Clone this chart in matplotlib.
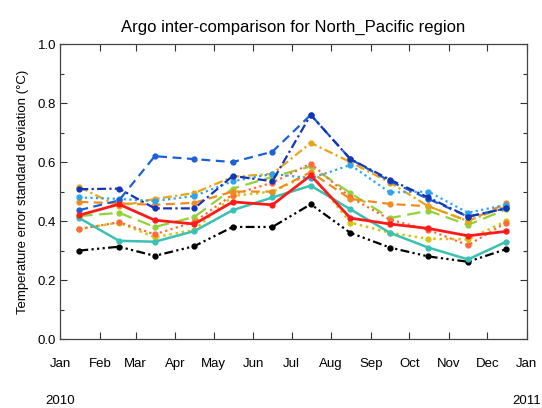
# -*- coding: utf-8 -*-

import numpy as np
import matplotlib
matplotlib.use('Agg')
import matplotlib.pyplot as plt
import matplotlib.dates as mdates
import pandas as pd

plt.rcParams['font.family'] = ['Liberation Sans', 'DejaVu Sans']

months = ['Jan', 'Feb', 'Mar', 'Apr', 'May', 'Jun', 'Jul', 'Aug', 'Sep', 'Oct', 'Nov', 'Dec', 'Jan']
dates = pd.date_range('2010-01-01', periods=12, freq='MS') + pd.Timedelta(days=15)

black = [0.30, 0.313, 0.282, 0.315, 0.38, 0.38, 0.457, 0.36, 0.31, 0.28, 0.262, 0.305]
teal = [0.41, 0.333, 0.33, 0.366, 0.437, 0.48, 0.52, 0.44, 0.36, 0.31, 0.27, 0.33]
red = [0.42, 0.457, 0.403, 0.39, 0.465, 0.455, 0.555, 0.41, 0.39, 0.375, 0.35, 0.365]
blue_dash = [0.437, 0.47, 0.62, 0.61, 0.60, 0.635, 0.76, 0.61, 0.535, 0.475, 0.415, 0.443]
navy_dashdot = [0.508, 0.51, 0.443, 0.443, 0.553, 0.535, 0.76, 0.61, 0.54, 0.48, 0.415, 0.443]
lightblue_dot = [0.48, 0.475, 0.468, 0.485, 0.535, 0.56, 0.545, 0.59, 0.497, 0.50, 0.428, 0.455]
orange_dash = [0.465, 0.46, 0.455, 0.462, 0.50, 0.50, 0.566, 0.475, 0.458, 0.45, 0.40, 0.46]
tomato_dot = [0.373, 0.396, 0.355, 0.397, 0.49, 0.53, 0.595, 0.48, 0.405, 0.37, 0.318, 0.395]
gold_dashdot = [0.515, 0.45, 0.475, 0.495, 0.55, 0.56, 0.665, 0.60, 0.53, 0.45, 0.40, 0.45]
green_dash = [0.417, 0.428, 0.38, 0.414, 0.51, 0.55, 0.585, 0.495, 0.41, 0.435, 0.387, 0.44]
yellow_dot = [0.373, 0.395, 0.345, 0.37, 0.485, 0.50, 0.56, 0.395, 0.36, 0.34, 0.338, 0.40]

f = plt.figure(figsize=(5.42, 4.08), dpi=100)
ax = f.add_axes([0.111, 0.169, 0.861, 0.723])

ax.plot(dates, black, color='black', ls=(0, (4, 1.5, 1, 1.5, 1, 1.5, 1, 1.5)), marker='o', ms=3.5, lw=1.6)
ax.plot(dates, green_dash, color='#92d13a', ls=(0, (6, 3)), marker='o', ms=3.5, lw=1.6)
ax.plot(dates, yellow_dot, color='#d4c60a', ls=(0, (1, 1.5)), marker='o', ms=3.5, lw=1.8)
ax.plot(dates, tomato_dot, color='#ff6a3d', ls=(0, (1, 1.5)), marker='o', ms=3.5, lw=1.6)
ax.plot(dates, orange_dash, color='#f28a1e', ls=(0, (4, 2.5)), marker='o', ms=3.5, lw=1.6)
ax.plot(dates, gold_dashdot, color='#e8a516', ls=(0, (4, 1.5, 1, 1.5)), marker='o', ms=3.5, lw=1.6)
ax.plot(dates, lightblue_dot, color='#2ea3f0', ls=(0, (1, 1.5)), marker='o', ms=3.5, lw=1.6)
ax.plot(dates, blue_dash, color='#1d5fd6', ls=(0, (4, 2.5)), marker='o', ms=3.5, lw=1.6)
ax.plot(dates, navy_dashdot, color='#1435b8', ls=(0, (4, 1.5, 1, 1.5)), marker='o', ms=3.5, lw=1.6)
ax.plot(dates, teal, color='#3cc0b4', ls='-', marker='o', ms=3.5, lw=1.8)
ax.plot(dates, red, color='#ff1a1a', ls='-', marker='o', ms=3.5, lw=2.0)

ax.set_xlim(pd.Timestamp('2010-01-01'), pd.Timestamp('2011-01-01'))
ax.set_ylim(0, 1.0)
ax.set_xticks(pd.date_range('2010-01-01', '2011-01-01', freq='MS'))
ax.set_xticklabels(months)
ax.set_yticks([0, 0.2, 0.4, 0.6, 0.8, 1.0])
ax.set_yticks(np.arange(0.1, 1.0, 0.2), minor=True)
ax.set_yticklabels(['0.0', '0.2', '0.4', '0.6', '0.8', '1.0'])
ax.tick_params(direction='in', top=True, right=True, length=5, width=0.8, labelsize=9.5, colors='#333333', labelcolor='black')
ax.tick_params(axis='x', pad=14)
ax.tick_params(axis='y', pad=3)
ax.tick_params(which='minor', direction='in', right=True, length=3, width=0.8, colors='#333333')
for s in ax.spines.values():
    s.set_color('#444444')
    s.set_linewidth(0.9)

ax.set_title('Argo inter-comparison for North_Pacific region', fontsize=12, pad=9)
ax.set_ylabel('Temperature error standard deviation (\u00b0C)', fontsize=9.5, labelpad=6)
f.text(0.111, 0.01, '2010', ha='center', fontsize=9.5)
f.text(0.972, 0.01, '2011', ha='center', fontsize=9.5)

f.savefig('out.png', dpi=100)
